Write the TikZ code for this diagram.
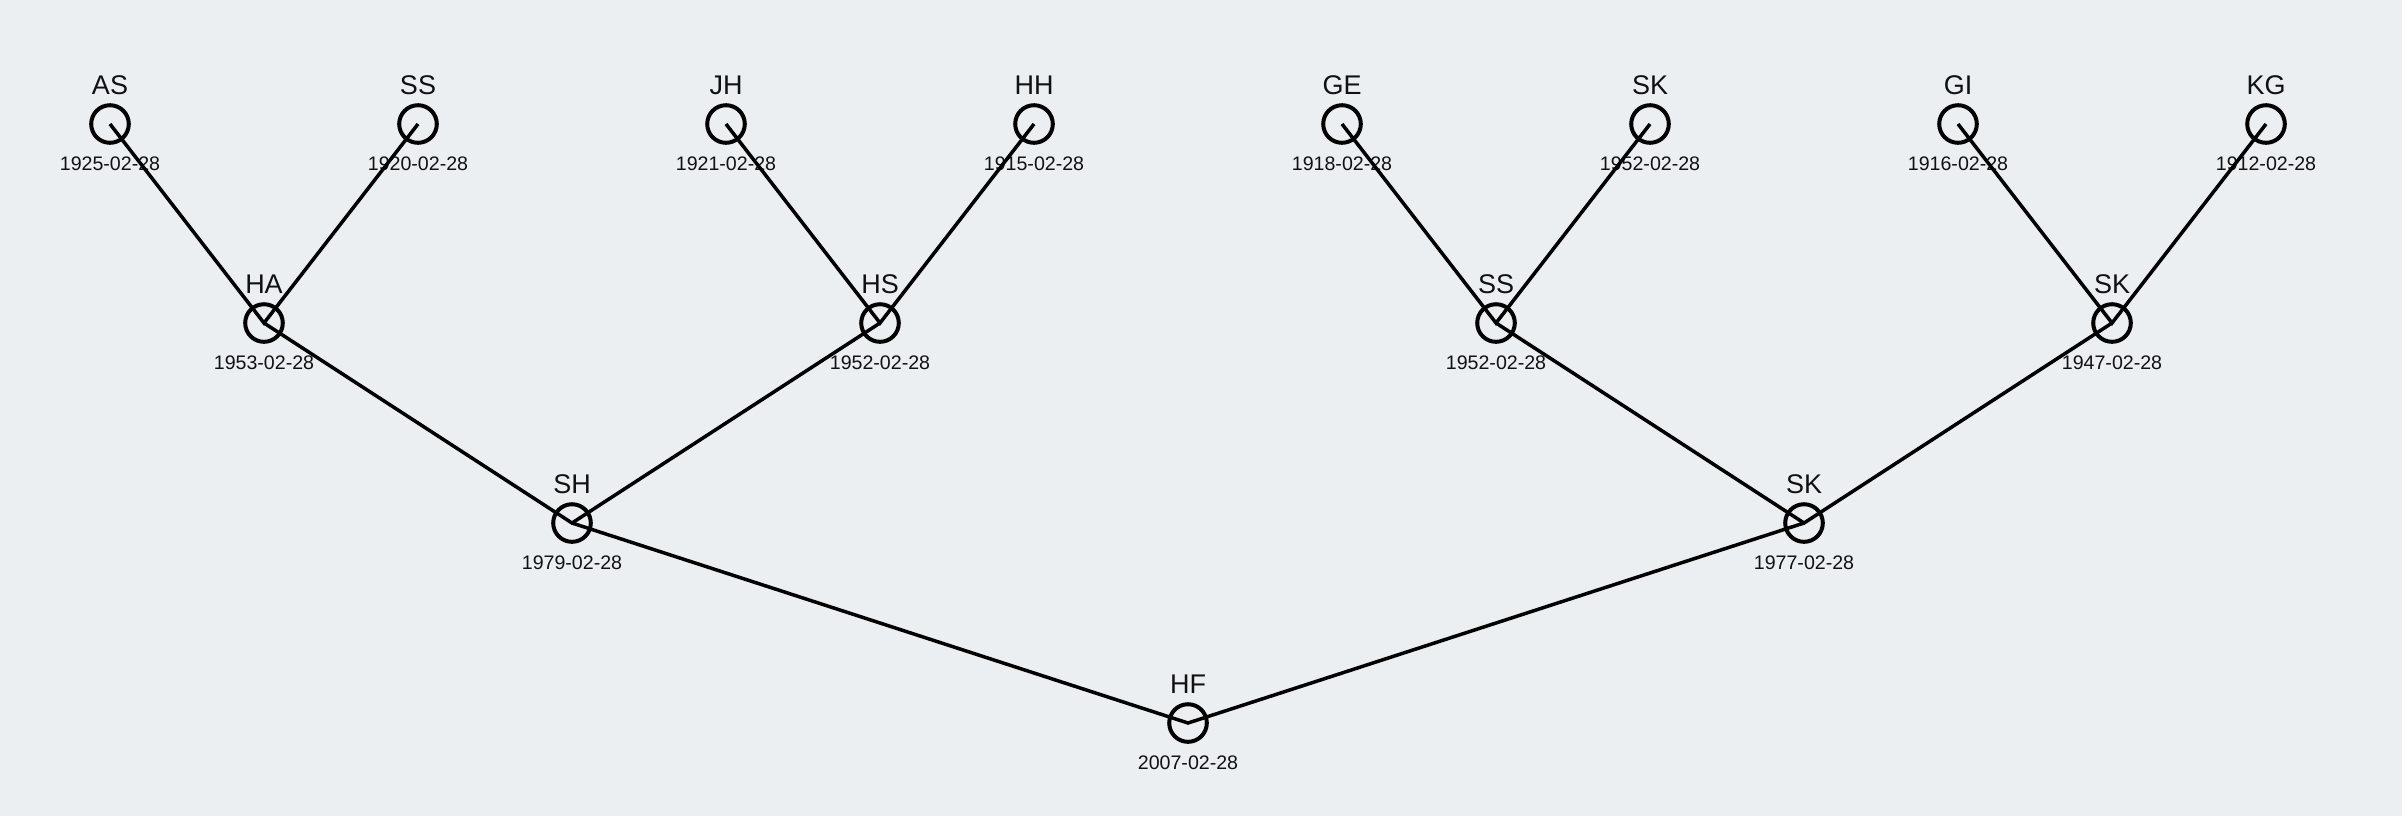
\documentclass[tikz,border=0pt]{standalone}
\usepackage{fontspec}
\setmainfont{Liberation Sans}
\definecolor{bgc}{HTML}{ECEFF1}
\definecolor{ink}{HTML}{111111}
\begin{document}
\begin{tikzpicture}[x=0.5pt,y=-0.5pt,
  person/.style={circle,draw=black,line width=2pt,minimum size=18.8pt,inner sep=0pt},
  pname/.style={font=\fontsize{13.5pt}{15pt}\selectfont,text=ink,inner sep=0pt},
  pdate/.style={font=\fontsize{9.8pt}{11pt}\selectfont,text=ink,inner sep=0pt},
  link/.style={line width=1.75pt,black}]
\fill[bgc] (0,0) rectangle (2402,816);
\useasboundingbox (0,0) rectangle (2402,816);
\foreach \id/\x/\y/\n/\d in {
  as/110/124/AS/1925-02-28, ss/418/124/SS/1920-02-28,
  jh/726/124/JH/1921-02-28, hh/1034/124/HH/1915-02-28,
  ge/1342/124/GE/1918-02-28, sk/1650/124/SK/1952-02-28,
  gi/1958/124/GI/1916-02-28, kg/2266/124/KG/1912-02-28,
  ha/264/323/HA/1953-02-28, hs/880/323/HS/1952-02-28,
  ssb/1496/323/SS/1952-02-28, skb/2112/323/SK/1947-02-28,
  sh/572/523/SH/1979-02-28, skc/1804/523/SK/1977-02-28,
  hf/1188/723/HF/2007-02-28}{
  \node[person] (\id) at (\x,\y) {};
  \node[pname] (\id-n) at (\x,\y-39) {\n};
  \node[pdate] (\id-d) at (\x,\y+40) {\d};
}
\draw[link] (as.center) -- (ha.center) -- (ss.center);
\draw[link] (jh.center) -- (hs.center) -- (hh.center);
\draw[link] (ge.center) -- (ssb.center) -- (sk.center);
\draw[link] (gi.center) -- (skb.center) -- (kg.center);
\draw[link] (ha.center) -- (sh.center) -- (hs.center);
\draw[link] (ssb.center) -- (skc.center) -- (skb.center);
\draw[link] (sh.center) -- (hf.center) -- (skc.center);
\end{tikzpicture}
\end{document}
